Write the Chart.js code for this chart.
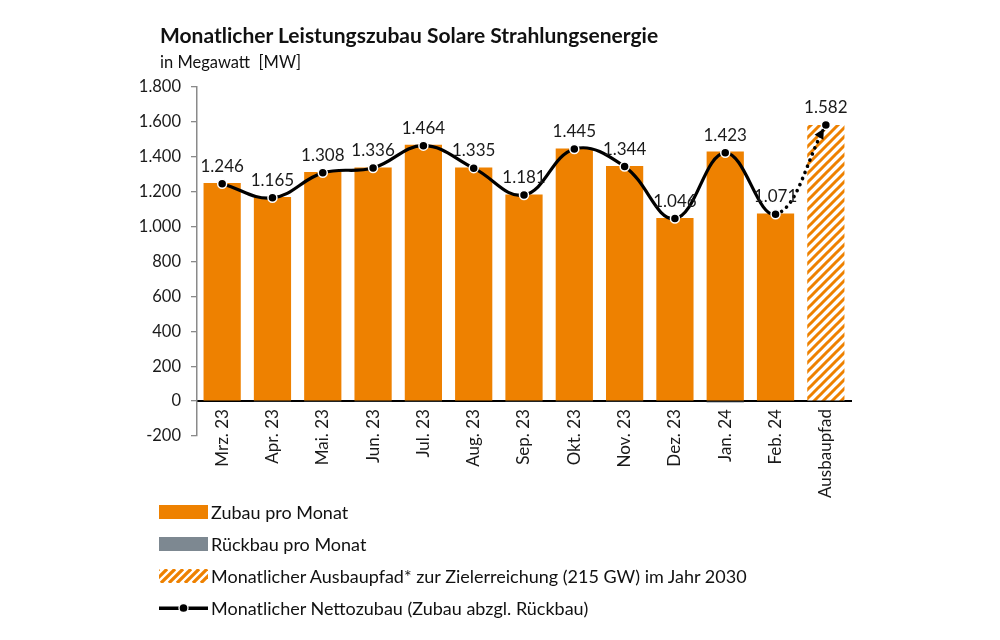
<!DOCTYPE html>
<html><head><meta charset="utf-8">
<script src="https://cdn.jsdelivr.net/npm/chart.js@4.4.1/dist/chart.umd.min.js"></script>
<style>
html,body{margin:0;padding:0;background:#fff;}
body{width:1000px;height:640px;position:relative;overflow:hidden;font-family:Lato,"Noto Sans",sans-serif;color:#111;}
#wrap{position:absolute;left:0;top:0;width:1000px;height:640px;}
#title{position:absolute;left:160px;top:22px;font-weight:bold;font-size:21px;white-space:nowrap;}
#sub{position:absolute;left:160px;top:52px;font-size:16.5px;white-space:pre;}
#legend{position:absolute;left:159px;top:496px;}
.li{display:flex;align-items:center;height:32px;font-size:18px;white-space:nowrap;}
.sw{width:49px;height:14px;margin-right:3px;flex:none;}
</style></head>
<body>
<div id="wrap"><canvas id="c" width="1000" height="640"></canvas></div>
<div id="title">Monatlicher Leistungszubau Solare Strahlungsenergie</div>
<div id="sub">in Megawatt  [MW]</div>
<div id="legend"></div>
<script>
const categories = ["Mrz. 23","Apr. 23","Mai. 23","Jun. 23","Jul. 23","Aug. 23","Sep. 23","Okt. 23","Nov. 23","Dez. 23","Jan. 24","Feb. 24","Ausbaupfad"];
const zubau     = [1250,1170,1313,1339,1469,1339,1184,1448,1347,1050,1431,1075,null];
const rueckbau  = [-4,-5,-5,-3,-5,-4,-3,-3,-3,-4,-8,-4,null];
const ausbaupfad = [null,null,null,null,null,null,null,null,null,null,null,null,1582];
const netto     = [1246,1165,1308,1336,1464,1335,1181,1445,1344,1046,1423,1071,1582];
const yTicks    = [-200,0,200,400,600,800,1000,1200,1400,1600,1800];
const legendLabels = ["Zubau pro Monat","Rückbau pro Monat","Monatlicher Ausbaupfad* zur Zielerreichung (215 GW) im Jahr 2030","Monatlicher Nettozubau (Zubau abzgl. Rückbau)"];

const ORANGE = '#EE8100';
const GRAY = '#7D8891';
const FONT = 'Lato, "Noto Sans", sans-serif';

function fmt(v){
  const s = Math.round(Math.abs(v)).toString();
  const r = s.replace(/\B(?=(\d{3})+(?!\d))/g, '.');
  return (v < 0 ? '-' : '') + r;
}

function makeHatch(){
  const p = document.createElement('canvas');
  p.width = 9; p.height = 9;
  const g = p.getContext('2d');
  g.fillStyle = '#fff'; g.fillRect(0,0,9,9);
  g.strokeStyle = ORANGE; g.lineWidth = 3;
  g.beginPath();
  g.moveTo(-2,11); g.lineTo(11,-2);
  g.moveTo(-6.5,6.5); g.lineTo(6.5,-6.5);
  g.moveTo(2.5,15.5); g.lineTo(15.5,2.5);
  g.stroke();
  return document.getElementById('c').getContext('2d').createPattern(p,'repeat');
}
const hatch = makeHatch();

const labelPlugin = {
  id:'valLabels',
  afterDatasetsDraw(chart){
    const ctx = chart.ctx;
    const ds = chart.data.datasets[3];
    const meta = chart.getDatasetMeta(3);
    ctx.save();
    ctx.font = '17px ' + FONT;
    ctx.fillStyle = '#1a1a1a';
    ctx.textAlign = 'center';
    ctx.textBaseline = 'bottom';
    meta.data.forEach((pt,i)=>{
      const v = ds.data[i];
      if (v == null) return;
      ctx.fillText(fmt(v), pt.x, pt.y - 9);
    });
    // arrow head on last segment
    const n = meta.data.length;
    const a = meta.data[n-2], b = meta.data[n-1];
    const dx = b.x - a.x, dy = b.y - a.y;
    const len = Math.hypot(dx,dy);
    const ux = dx/len, uy = dy/len;
    const tipx = b.x - ux*4, tipy = b.y - uy*4;
    const bx = tipx - ux*10, by = tipy - uy*10;
    ctx.fillStyle = '#000';
    ctx.beginPath();
    ctx.moveTo(tipx, tipy);
    ctx.lineTo(bx - uy*5, by + ux*5);
    ctx.lineTo(bx + uy*5, by - ux*5);
    ctx.closePath();
    ctx.fill();
    ctx.restore();
  }
};

const n = categories.length;
const chart = new Chart(document.getElementById('c'), {
  type:'bar',
  data:{
    labels: categories,
    datasets:[
      {label:legendLabels[0], data:zubau, backgroundColor:ORANGE, grouped:false, barPercentage:0.74, categoryPercentage:1, order:3},
      {label:legendLabels[1], data:rueckbau, backgroundColor:GRAY, grouped:false, barPercentage:0.74, categoryPercentage:1, order:3},
      {label:legendLabels[2], data:ausbaupfad, backgroundColor:hatch, grouped:false, barPercentage:0.74, categoryPercentage:1, order:3},
      {label:legendLabels[3], type:'line', data:netto, stack:'net', borderColor:'#000', borderWidth:3.2, tension:0.4,
       pointRadius:4.5, pointBackgroundColor:'#000', pointBorderColor:'#fff', pointBorderWidth:1.5, order:1,
       segment:{
         borderDash: c => c.p1DataIndex === n-1 ? [0.1, 6.5] : undefined,
         borderCapStyle: c => c.p1DataIndex === n-1 ? 'round' : 'butt',
         borderWidth: c => c.p1DataIndex === n-1 ? 3.6 : 3.2
       }}
    ]
  },
  options:{
    responsive:false,
    animation:false,
    devicePixelRatio:1,
    layout:{padding:{left:117,right:149,top:87,bottom:204}},
    plugins:{legend:{display:false}, tooltip:{enabled:false}, title:{display:false}},
    scales:{
      x:{
        position:{y:0},
        grid:{display:false, drawTicks:false},
        border:{display:true, color:'#000', width:2},
        ticks:{minRotation:90, maxRotation:90, autoSkip:false, padding:8, color:'#1a1a1a', font:{family:FONT, size:17}},
        afterFit(s){ s.height = 0; }
      },
      y:{
        min:-200, max:1800,
        afterBuildTicks(s){ s.ticks = yTicks.map(v=>({value:v})); },
        grid:{display:true, drawOnChartArea:false, drawTicks:true, tickLength:6, color:'#8a8a8a', lineWidth:1.3},
        border:{display:true, color:'#8a8a8a', width:1.5},
        ticks:{padding:10, color:'#1a1a1a', font:{family:FONT, size:16.5}, callback:v=>fmt(v)},
        afterFit(s){ s.width = 80; }
      }
    }
  },
  plugins:[labelPlugin]
});

// HTML legend built from chart datasets
const lg = document.getElementById('legend');
chart.data.datasets.forEach((d,i)=>{
  const row = document.createElement('div'); row.className='li';
  const sw = document.createElement('canvas'); sw.className='sw'; sw.width=49; sw.height=14;
  const g = sw.getContext('2d');
  if (i===0 || i===1){ g.fillStyle = d.backgroundColor; g.fillRect(0,0,49,14); }
  else if (i===2){
    g.strokeStyle = ORANGE; g.lineWidth = 3.2;
    for (let k=-14;k<60;k+=8){ g.beginPath(); g.moveTo(k,14); g.lineTo(k+14,0); g.stroke(); }
  } else {
    g.fillStyle='#000'; g.fillRect(0,5.5,49,3.5);
    g.beginPath(); g.arc(24.5,7,4.5,0,Math.PI*2); g.fill();
    g.strokeStyle='#fff'; g.lineWidth=1.3; g.stroke();
  }
  const t = document.createElement('span'); t.textContent = d.label;
  row.appendChild(sw); row.appendChild(t); lg.appendChild(row);
});
</script>
</body></html>
